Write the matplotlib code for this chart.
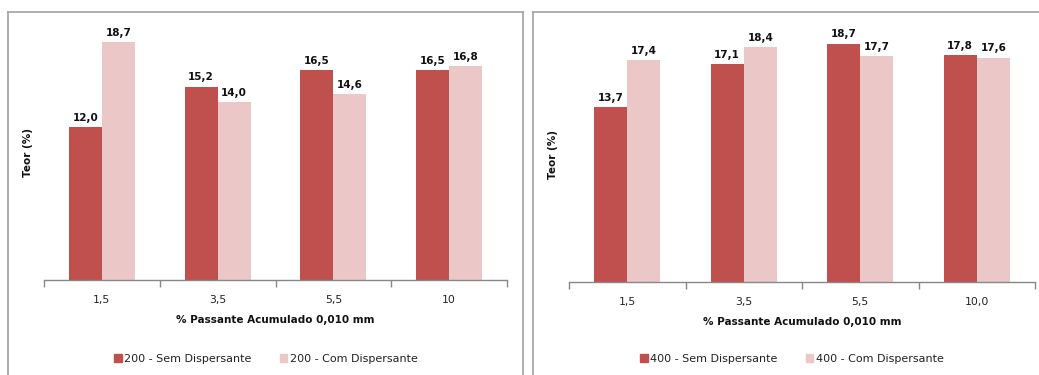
import matplotlib
matplotlib.use("Agg")
import matplotlib.pyplot as plt
from matplotlib.lines import Line2D
from matplotlib.patches import Patch
import numpy as np

plt.rcParams['font.family'] = ['DejaVu Sans']

categories_left = ["1,5", "3,5", "5,5", "10"]
categories_right = ["1,5", "3,5", "5,5", "10,0"]
sem_200 = [12.0, 15.2, 16.5, 16.5]
com_200 = [18.7, 14.0, 14.6, 16.8]
sem_400 = [13.7, 17.1, 18.7, 17.8]
com_400 = [17.4, 18.4, 17.7, 17.6]
labels_200 = ["200 - Sem Dispersante", "200 - Com Dispersante"]
labels_400 = ["400 - Sem Dispersante", "400 - Com Dispersante"]

DARK = "#C0504D"
LIGHT = "#EBC7C7"
AXIS_GRAY = "#888888"
FRAME_GRAY = "#A8A8A8"

W, H = 1039, 375
fig = plt.figure(figsize=(W / 100, H / 100), dpi=100)


def px_axes(x0, x1, base, top):
    return fig.add_axes([x0 / W, (H - base) / H, (x1 - x0) / W, (base - top) / H])


def fmt(v):
    return f"{v:.1f}".replace(".", ",")


def draw_panel(ax, cats, s1, s2, labels, legend_cx):
    x = np.arange(len(cats))
    w = 0.285
    b1 = ax.bar(x - w / 2, s1, w, color=DARK, label=labels[0])
    b2 = ax.bar(x + w / 2, s2, w, color=LIGHT, label=labels[1])
    for bars, vals in ((b1, s1), (b2, s2)):
        for r, v in zip(bars, vals):
            ax.annotate(fmt(v), (r.get_x() + r.get_width() / 2, v),
                        xytext=(0, 3), textcoords="offset points",
                        ha="center", va="bottom", fontsize=7.5,
                        fontweight="bold", color="#111111")
    ax.set_xlim(-0.5, len(cats) - 0.5)
    ax.set_ylim(0, 20)
    for side in ("top", "right", "left"):
        ax.spines[side].set_visible(False)
    ax.spines["bottom"].set_color(AXIS_GRAY)
    ax.spines["bottom"].set_linewidth(1.0)
    ax.set_yticks([])
    ax.set_xticks(x)
    ax.set_xticklabels(cats, fontsize=7.8, color="#222222")
    ax.tick_params(axis="x", which="major", length=0, pad=11)
    ax.set_xticks(np.arange(-0.5, len(cats)), minor=True)
    ax.tick_params(axis="x", which="minor", length=5, color=AXIS_GRAY,
                   direction="out", width=1.0)
    ax.set_xlabel("% Passante Acumulado 0,010 mm", fontsize=7.5,
                  fontweight="bold", labelpad=7, color="#111111")
    ax.set_ylabel("Teor (%)", fontsize=7.5, fontweight="bold", color="#111111")
    ax.yaxis.set_label_coords(-0.024, 0.5)
    fig.legend(handles=[Patch(color=DARK), Patch(color=LIGHT)], labels=labels,
               loc="center", bbox_to_anchor=(legend_cx / W, (H - 359) / H),
               ncol=2, frameon=False, fontsize=8, handlelength=0.7,
               handleheight=0.75, handletextpad=0.25, columnspacing=2.5,
               labelcolor="#222222")


ax1 = px_axes(44, 507, 280, 25.4)
draw_panel(ax1, categories_left, sem_200, com_200, labels_200, 266)

ax2 = px_axes(569, 1035, 282, 27)
draw_panel(ax2, categories_right, sem_400, com_400, labels_400, 792)

# Chart-area frames around each panel
def fline(xs, ys):
    fig.add_artist(Line2D([v / W for v in xs], [(H - v) / H for v in ys],
                          transform=fig.transFigure, color=FRAME_GRAY, lw=1.3))

fline([8, 8], [H + 2, 12])
fline([8, 523], [12, 12])
fline([523, 523], [12, H + 2])
fline([533, 533], [H + 2, 12])
fline([533, W + 2], [12, 12])

fig.savefig("out.png", dpi=100)
